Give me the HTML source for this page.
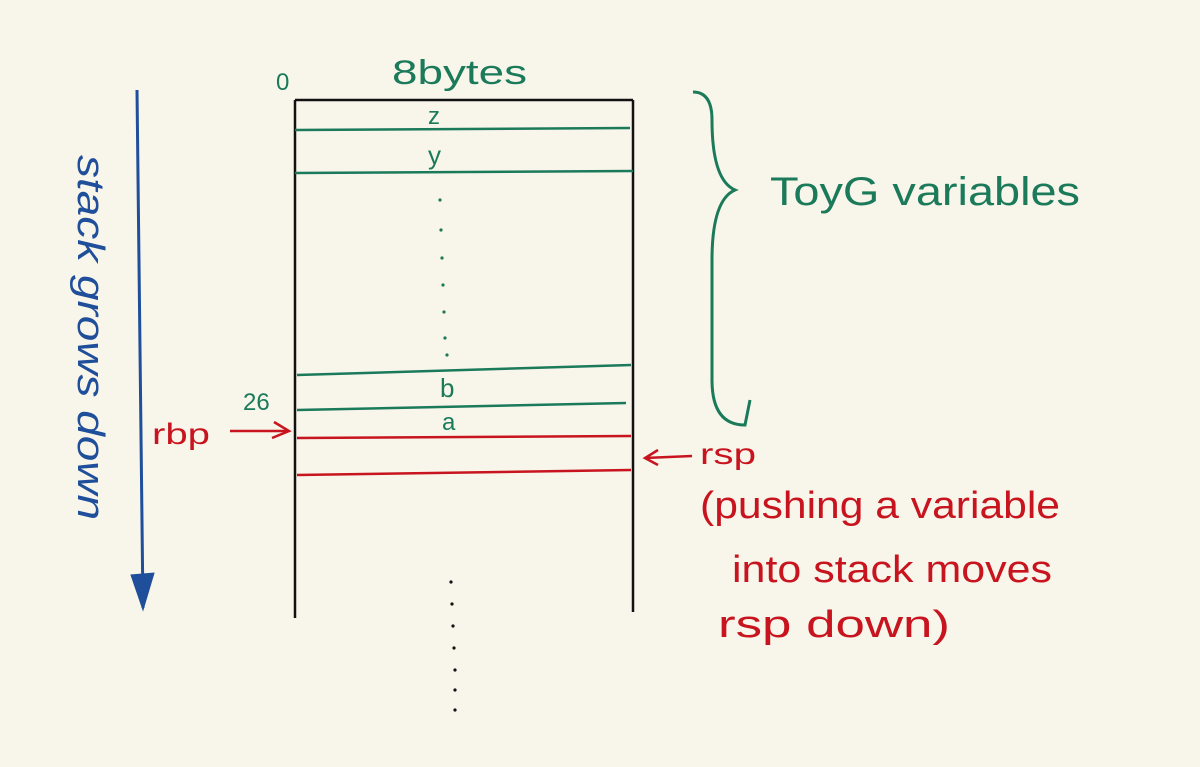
<!DOCTYPE html>
<html><head><meta charset="utf-8">
<style>
html,body{margin:0;padding:0;background:#f8f5ea;}
svg{display:block;}
text{font-family:"Liberation Sans",sans-serif;}
</style></head>
<body>
<svg width="1200" height="767" viewBox="0 0 1200 767">
<rect width="1200" height="767" fill="#f8f5ea"/>
<g stroke="#1f4e9a" fill="#1f4e9a">
<path d="M137 90 Q140 350 143 608" stroke-width="3" fill="none"/>
<path d="M131 575 L143 610 L154 573 Z"/>
</g>
<text transform="translate(78,155) rotate(90)" font-size="38" fill="#1f4e9a" font-style="italic" textLength="365" lengthAdjust="spacingAndGlyphs">stack grows down</text>
<g stroke="#111" stroke-width="2.5" fill="none">
<path d="M295 100 L633 100"/>
<path d="M295 100 L295 618"/>
<path d="M633 100 L633 612"/>
</g>
<text x="276" y="90" font-size="24" fill="#1a7a5a">0</text>
<text x="392" y="84" font-size="34" fill="#1a7a5a" textLength="135" lengthAdjust="spacingAndGlyphs">8bytes</text>
<g stroke="#1a7a5a" stroke-width="2.5" fill="none">
<path d="M295 130 L630 128"/>
<path d="M295 173 L633 171"/>
<path d="M297 375 L631 365"/>
<path d="M297 410 L626 403"/>
</g>
<text x="428" y="124" font-size="24" fill="#1a7a5a">z</text>
<text x="428" y="164" font-size="26" fill="#1a7a5a">y</text>
<text x="440" y="397" font-size="26" fill="#1a7a5a">b</text>
<text x="442" y="430" font-size="24" fill="#1a7a5a">a</text>
<g fill="#1a7a5a">
<circle cx="440" cy="200" r="1.6"/><circle cx="441" cy="230" r="1.6"/><circle cx="442" cy="258" r="1.6"/><circle cx="443" cy="285" r="1.6"/><circle cx="444" cy="312" r="1.6"/><circle cx="445" cy="338" r="1.6"/><circle cx="447" cy="355" r="1.6"/>
</g>
<text x="243" y="410" font-size="24" fill="#1a7a5a">26</text>
<g stroke="#1a7a5a" stroke-width="3" fill="none">
<path d="M693 92 Q712 92 712 120 Q712 180 735 190 Q712 200 712 260 L712 380 Q712 425 745 425 L750 400"/>
</g>
<text x="770" y="205" font-size="40" fill="#1a7a5a" textLength="310" lengthAdjust="spacingAndGlyphs">ToyG variables</text>
<g stroke="#c8141e" stroke-width="2.5" fill="none">
<path d="M297 438 L631 436"/>
<path d="M297 475 L631 470"/>
</g>
<text x="152" y="444" font-size="30" fill="#c8141e" textLength="58" lengthAdjust="spacingAndGlyphs">rbp</text>
<g stroke="#c8141e" stroke-width="2.5" fill="none">
<path d="M230 431 L288 431"/><path d="M274 422 L289 431 L272 438"/>
</g>
<g stroke="#c8141e" stroke-width="2.5" fill="none">
<path d="M645 458 L692 456"/><path d="M658 450 L645 458 L658 465"/>
</g>
<text x="700" y="464" font-size="30" fill="#c8141e" textLength="56" lengthAdjust="spacingAndGlyphs">rsp</text>
<text x="700" y="518" font-size="38" fill="#c8141e" textLength="360" lengthAdjust="spacingAndGlyphs">(pushing a variable</text>
<text x="732" y="582" font-size="38" fill="#c8141e" textLength="320" lengthAdjust="spacingAndGlyphs">into stack moves</text>
<text x="718" y="637" font-size="38" fill="#c8141e" textLength="232" lengthAdjust="spacingAndGlyphs">rsp down)</text>
<g fill="#111">
<circle cx="451" cy="582" r="1.6"/><circle cx="452" cy="604" r="1.6"/><circle cx="453" cy="626" r="1.6"/><circle cx="454" cy="648" r="1.6"/><circle cx="455" cy="670" r="1.6"/><circle cx="455" cy="690" r="1.6"/><circle cx="455" cy="710" r="1.6"/>
</g>
</svg>
</body></html>
